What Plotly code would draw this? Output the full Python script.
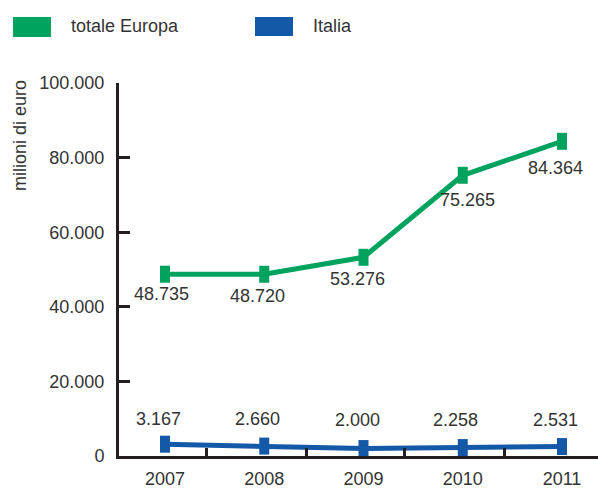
import plotly.graph_objects as go

years = [2007, 2008, 2009, 2010, 2011]
europa = [48735, 48720, 53276, 75265, 84364]
italia = [3167, 2660, 2000, 2258, 2531]
y_ticks = [0, 20000, 40000, 60000, 80000, 100000]
x_tick_marks = [2007.42, 2008.43, 2009.41, 2010.42]

GREEN = "#00a35e"
BLUE = "#1459a8"
TEXT = "#333333"
AXIS = "#231f20"
FONT = "Liberation Sans"
FS = 18

W, H = 598, 488
L, R, T, B = 119, 0, 83, 32
PW, PH = W - L - R, H - T - B

def px(xp):
    return (xp - L) / PW

def py(yp):
    return (H - B - yp) / PH

def fmt(v):
    return f"{v:,}".replace(",", ".")

fig = go.Figure()
unit_per_px = 100000 / PH
for name, vals, col in [("totale Europa", europa, GREEN), ("Italia", italia, BLUE)]:
    fig.add_trace(go.Scatter(
        x=years, y=vals, mode="lines", name=name,
        line=dict(color=col, width=5),
        error_y=dict(type="constant", value=8.5 * unit_per_px, thickness=10, width=0, color=col),
        showlegend=False, hoverinfo="skip",
    ))

annotations = []
eu_dx = [-4, -7, -6, 5, -7]
eu_dy = [-20, -22, -22, -25, -27]
for x, v, dx, dy in zip(years, europa, eu_dx, eu_dy):
    annotations.append(dict(x=x, y=v, text=fmt(v), showarrow=False, xshift=dx, yshift=dy,
                            font=dict(family=FONT, size=FS, color=TEXT)))
it_dx = [-7, -7, -6, -7, -7]
it_dy = [25, 27, 29, 28, 27]
for x, v, dx, dy in zip(years, italia, it_dx, it_dy):
    annotations.append(dict(x=x, y=v, text=fmt(v), showarrow=False, xshift=dx, yshift=dy,
                            font=dict(family=FONT, size=FS, color=TEXT)))

# y-axis title
annotations.append(dict(x=px(20), y=py(136), xref="paper", yref="paper", text="milioni di euro",
                        textangle=-90, showarrow=False, xanchor="center", yanchor="middle",
                        font=dict(family=FONT, size=FS, color=TEXT)))
# legend texts
annotations.append(dict(x=px(69), y=py(26), xref="paper", yref="paper", text="totale Europa",
                        showarrow=False, xanchor="left", yanchor="middle",
                        font=dict(family=FONT, size=FS, color=TEXT)))
annotations.append(dict(x=px(311), y=py(26), xref="paper", yref="paper", text="Italia",
                        showarrow=False, xanchor="left", yanchor="middle",
                        font=dict(family=FONT, size=FS, color=TEXT)))

shapes = [
    dict(type="rect", xref="paper", yref="paper", x0=px(13), x1=px(51), y0=py(37), y1=py(17),
         fillcolor=GREEN, line=dict(width=0)),
    dict(type="rect", xref="paper", yref="paper", x0=px(255), x1=px(293), y0=py(36), y1=py(17),
         fillcolor=BLUE, line=dict(width=0)),
]

x0 = years[0] - (165 - L) / 99.25
x1 = years[-1] + (W - 562) / 99.25

fig.update_layout(
    width=W, height=H,
    margin=dict(l=L, r=R, t=T, b=B, pad=0),
    paper_bgcolor="white", plot_bgcolor="white",
    separators=",.",
    font=dict(family=FONT, size=FS, color=TEXT),
    annotations=annotations, shapes=shapes,
    xaxis=dict(range=[x0, x1], tickvals=years, ticktext=[str(y) for y in years],
               ticks="", showgrid=False, zeroline=False, showline=True,
               linecolor=AXIS, linewidth=3, ticklabelstandoff=4, automargin=False,
               minor=dict(tickmode="array", tickvals=x_tick_marks, ticks="inside",
                          ticklen=8, tickwidth=3, tickcolor=AXIS, showgrid=False)),
    yaxis=dict(range=[0, 100000], tickvals=y_ticks, tickformat=",d",
               ticks="inside", ticklen=11, tickwidth=3, tickcolor=AXIS,
               showgrid=False, zeroline=False, showline=True, automargin=False,
               linecolor=AXIS, linewidth=3, ticklabelstandoff=8),
    showlegend=False,
)

fig.write_html("out.html", config={"displayModeBar": False},
               post_script="document.body.style.margin='0px';document.body.style.padding='0px';")
